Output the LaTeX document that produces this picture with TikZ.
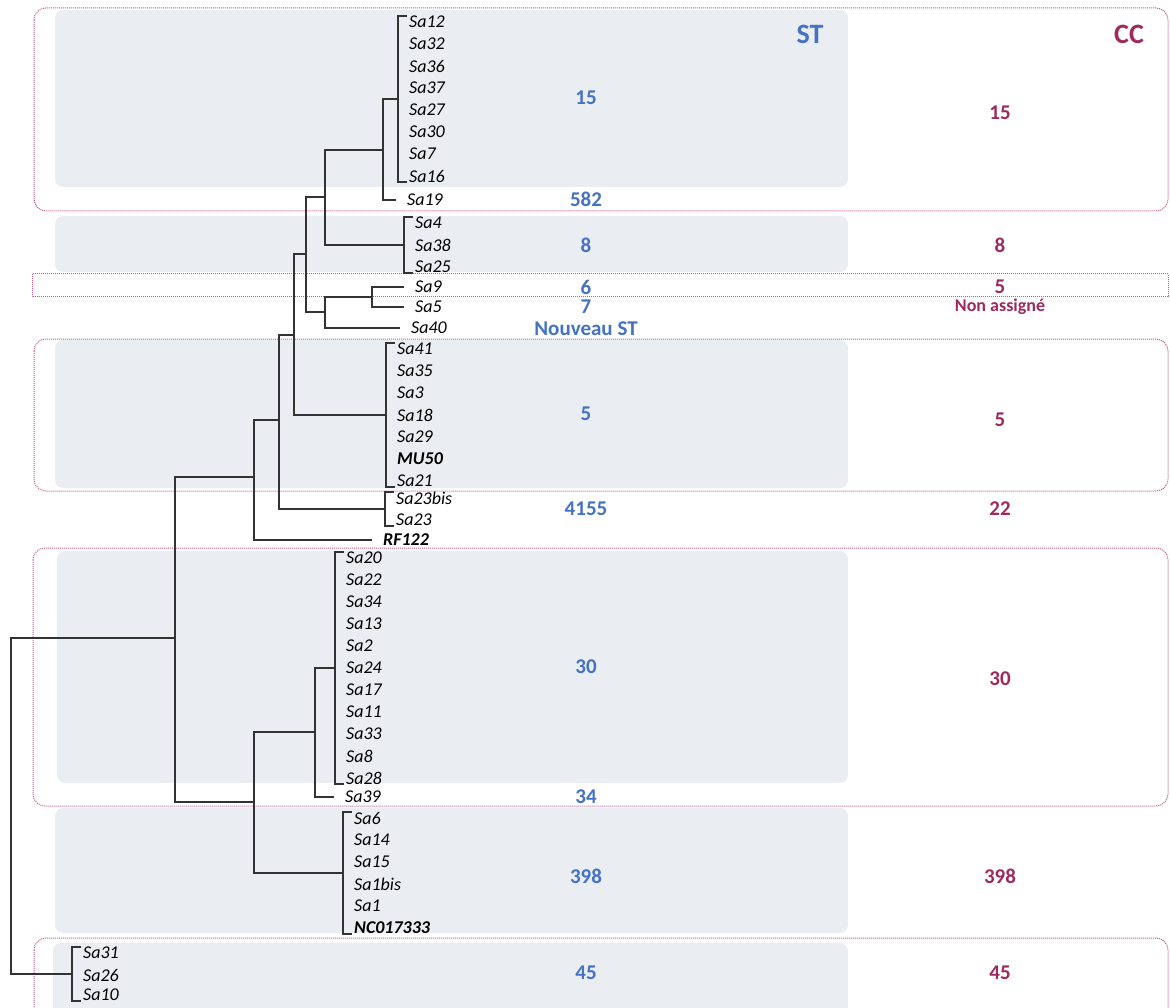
\documentclass[tikz,border=0pt]{standalone}
\usepackage{fontspec}
\setmainfont{Carlito}
\usetikzlibrary{calc}
\definecolor{stblue}{HTML}{4472C4}
\definecolor{ccred}{HTML}{9E2A5E}
\definecolor{ccline}{HTML}{C4578A}
\definecolor{grpgray}{HTML}{EAEDF2}
\newcommand{\leafbracket}[3]{%
  \draw[branch] ([xshift=9pt,yshift=6pt]#1.west) -- ([yshift=6pt]#1.west) -- ([yshift=-6pt]#2.west) -- ([xshift=9pt,yshift=-6pt]#2.west);
  \coordinate (#3) at ($(#1.west)!0.5!(#2.west)$);}

\begin{document}
\begin{tikzpicture}[x=1pt,y=-1pt,
  branch/.style={line width=1.2pt, black!80},
  leaf/.style={anchor=west, inner xsep=11pt, inner ysep=0pt, font=\fontsize{18}{20}\selectfont\itshape},
  leafb/.style={leaf, font=\fontsize{18}{20}\selectfont\itshape\bfseries},
  stnum/.style={text=stblue, font=\fontsize{21}{23}\selectfont\bfseries},
  ccnum/.style={text=ccred, font=\fontsize{21}{23}\selectfont\bfseries},
  grp/.style={fill=grpgray, rounded corners=8pt},
  ccbox/.style={draw=ccline, line width=1pt, densely dotted, rounded corners=12pt}]
\useasboundingbox (0,0) rectangle (1170,1008);
\clip (0,0) rectangle (1170,1008);

\fill[grp] (55,10) rectangle (848,187);
\fill[grp] (55,216) rectangle (848,272);
\fill[grp] (55,340) rectangle (848,488);
\fill[grp] (57,551) rectangle (848,783);
\fill[grp] (55,808) rectangle (848,933);
\fill[grp] (53,943) rectangle (848,1030);

\draw[ccbox] (34,8) rectangle (1168,211);
\draw[ccbox, sharp corners] (32,274) rectangle (1168,297);
\draw[ccbox] (34,339) rectangle (1168,491);
\draw[ccbox] (33,548) rectangle (1168,806);
\draw[ccbox] (34,938) rectangle (1168,1050);

\foreach \lf/\y in {Sa12/22,Sa32/44,Sa36/66,Sa37/88,Sa27/110,Sa30/132,Sa7/154,Sa16/176}
  \node[leaf] (\lf) at (398,\y) {\lf};
\node[leaf] (Sa19) at (396,200) {Sa19};
\foreach \lf/\y in {Sa4/223,Sa38/245,Sa25/267}
  \node[leaf] (\lf) at (404,\y) {\lf};
\node[leaf] (Sa9) at (404,287) {Sa9};
\node[leaf] (Sa5) at (404,307) {Sa5};
\node[leaf] (Sa40) at (400,328) {Sa40};
\foreach \lf/\y in {Sa41/349,Sa35/371,Sa3/393,Sa18/415,Sa29/437}
  \node[leaf] (\lf) at (386,\y) {\lf};
\node[leafb] (MU50) at (386,459) {MU50};
\node[leaf] (Sa21) at (386,481) {Sa21};
\node[leaf] (Sa23bis) at (385,498) {Sa23bis};
\node[leaf] (Sa23) at (385,520) {Sa23};
\node[leafb] (RF122) at (372,540) {RF122};
\foreach \lf/\y in {Sa20/558,Sa22/580,Sa34/602,Sa13/624,Sa2/646,Sa24/668,Sa17/690,Sa11/712,Sa33/734,Sa8/756,Sa28/778}
  \node[leaf] (\lf) at (335,\y) {\lf};
\node[leaf] (Sa39) at (334,797) {Sa39};
\foreach \lf/\y in {Sa6/818,Sa14/840,Sa15/862,Sa1bis/884,Sa1/906}
  \node[leaf] (\lf) at (343,\y) {\lf};
\node[leafb] (NC017333) at (343,928) {NC017333};
\foreach \lf/\y in {Sa31/953,Sa26/975,Sa10/995}
  \node[leaf] (\lf) at (72,\y) {\lf};

\leafbracket{Sa12}{Sa16}{b15}
\leafbracket{Sa4}{Sa25}{b8}
\leafbracket{Sa41}{Sa21}{b5}
\leafbracket{Sa23bis}{Sa23}{b4155}
\leafbracket{Sa20}{Sa28}{b30}
\leafbracket{Sa6}{NC017333}{b398}
\leafbracket{Sa31}{Sa10}{b45}

\coordinate (r0) at (11,639);
\coordinate (n1) at (175,638);
\coordinate (n2) at (254,477);
\coordinate (n3) at (279,420);
\coordinate (n4) at (294,335);
\coordinate (n5) at (306,254);
\coordinate (n6) at (325,197);
\coordinate (n7) at (325,312);
\coordinate (n8) at (383,150);
\coordinate (n9) at (254,802);
\coordinate (n10) at (372,297);
\coordinate (n11) at (315,732);

\draw[branch] (r0) |- (n1);
\draw[branch] (r0) |- (b45);
\draw[branch] (n1) |- (n2);
\draw[branch] (n1) |- (n9);
\draw[branch] (n2) |- (n3);
\draw[branch] (n2) |- (RF122.west);
\draw[branch] (n3) |- (n4);
\draw[branch] (n3) |- (b4155);
\draw[branch] (n4) |- (n5);
\draw[branch] (n4) |- (b5);
\draw[branch] (n5) |- (n6);
\draw[branch] (n5) |- (n7);
\draw[branch] (n6) |- (n8);
\draw[branch] (n6) |- (b8);
\draw[branch] (n8) |- (b15);
\draw[branch] (n8) |- (Sa19.west);
\draw[branch] (n7) |- (n10);
\draw[branch] (n7) |- (Sa40.west);
\draw[branch] (n10) |- (Sa9.west);
\draw[branch] (n10) |- (Sa5.west);
\draw[branch] (n9) |- (n11);
\draw[branch] (n9) |- (b398);
\draw[branch] (n11) |- (b30);
\draw[branch] (n11) |- (Sa39.west);

\node[text=stblue, font=\fontsize{28}{30}\selectfont\bfseries] (sthead) at (810,34) {ST};
\node[text=ccred, font=\fontsize{28}{30}\selectfont\bfseries] (cchead) at (1129,34) {CC};

\node[stnum] (st15) at (586,98) {15};
\node[stnum] (st582) at (586,199) {582};
\node[stnum] (st8) at (586,245) {8};
\node[stnum] (st6) at (586,287) {6};
\node[stnum] (st7) at (586,307) {7};
\node[stnum] (stnew) at (586,329) {Nouveau ST};
\node[stnum] (st5) at (586,414) {5};
\node[stnum] (st4155) at (586,509) {4155};
\node[stnum] (st30) at (586,667) {30};
\node[stnum] (st34) at (586,797) {34};
\node[stnum] (st398) at (586,876) {398};
\node[stnum] (st45) at (586,973) {45};

\node[ccnum] (cc15) at (1000,113) {15};
\node[ccnum] (cc8) at (1000,245) {8};
\node[ccnum] (cc5a) at (1000,287) {5};
\node[text=ccred, font=\fontsize{18}{20}\selectfont\bfseries] (ccna) at (1000,307) {Non assigné};
\node[ccnum] (cc5b) at (1000,420) {5};
\node[ccnum] (cc22) at (1000,509) {22};
\node[ccnum] (cc30) at (1000,679) {30};
\node[ccnum] (cc398) at (1000,876) {398};
\node[ccnum] (cc45) at (1000,973) {45};
\end{tikzpicture}
\end{document}
